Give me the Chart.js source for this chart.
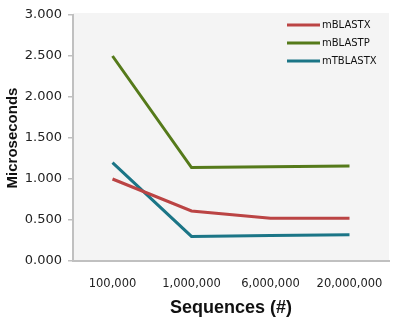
<!DOCTYPE html>
<html>
<head>
<meta charset="utf-8">
<script src="https://cdn.jsdelivr.net/npm/chart.js@4"></script>
<style>
  html, body { margin: 0; padding: 0; background: #fff; }
  #wrap { width: 402px; height: 323px; }
</style>
</head>
<body>
<div id="wrap"><canvas id="chart" width="402" height="323"></canvas></div>
<script>
const categories = ['100,000', '1,000,000', '6,000,000', '20,000,000'];
const mBLASTX = [1.0, 0.61, 0.52, 0.52];
const mBLASTP = [2.5, 1.14, 1.15, 1.16];
const mTBLASTX = [1.2, 0.30, 0.31, 0.32];

const ctx = document.getElementById('chart').getContext('2d');

// grey plot background
const plotBg = {
  id: 'plotBg',
  beforeDraw(chart) {
    const a = chart.chartArea, c = chart.ctx;
    c.save();
    c.fillStyle = '#f4f4f4';
    c.fillRect(a.left, a.top - 2, a.right - a.left, a.bottom - a.top + 2);
    c.restore();
  }
};

// legend drawn inside the plot, top right
const lineLegend = {
  id: 'lineLegend',
  afterDatasetsDraw(chart) {
    const c = chart.ctx;
    c.save();
    c.font = '10px "DejaVu Sans"';
    c.textBaseline = 'middle';
    chart.data.datasets.forEach((ds, i) => {
      const y = 25 + i * 18;
      c.strokeStyle = ds.borderColor;
      c.lineWidth = 3;
      c.beginPath();
      c.moveTo(287, y);
      c.lineTo(320, y);
      c.stroke();
      c.fillStyle = '#111';
      c.fillText(ds.label, 322, y);
    });
    c.restore();
  }
};

new Chart(ctx, {
  type: 'line',
  data: {
    labels: categories,
    datasets: [
      { label: 'mBLASTX', data: mBLASTX, borderColor: '#bb4444' },
      { label: 'mBLASTP', data: mBLASTP, borderColor: '#557a1a' },
      { label: 'mTBLASTX', data: mTBLASTX, borderColor: '#1b7586' }
    ]
  },
  options: {
    responsive: false,
    animation: false,
    layout: { padding: { left: 0, top: 15, right: 13, bottom: 0 } },
    elements: {
      line: { borderWidth: 3, tension: 0 },
      point: { radius: 0 }
    },
    plugins: {
      legend: { display: false },
      tooltip: { enabled: false }
    },
    scales: {
      x: {
        offset: true,
        grid: { display: false, drawTicks: false },
        border: { color: '#c0c0c0', width: 2 },
        ticks: { color: '#222', font: { family: 'DejaVu Sans', size: 11.5 }, padding: 16, maxRotation: 0 },
        title: { display: true, text: 'Sequences (#)', color: '#111', font: { family: 'Liberation Sans', size: 18, weight: 'bold' }, padding: { top: 0 } },
        afterFit(scale) { scale.height = 62; }
      },
      y: {
        min: 0,
        max: 3,
        ticks: {
          stepSize: 0.5,
          color: '#222',
          padding: 6,
          font: { family: 'DejaVu Sans', size: 13 },
          callback: v => v.toFixed(3)
        },
        grid: { drawOnChartArea: false, drawTicks: true, tickLength: 5, color: '#c0c0c0', lineWidth: 1.5 },
        border: { color: '#c0c0c0', width: 2 },
        title: { display: true, text: 'Microseconds', color: '#111', font: { family: 'Liberation Sans', size: 15, weight: 'bold' }, padding: { top: 4, bottom: 2 } },
        afterFit(scale) { scale.width = 73; }
      }
    }
  },
  plugins: [plotBg, lineLegend]
});
</script>
</body>
</html>
